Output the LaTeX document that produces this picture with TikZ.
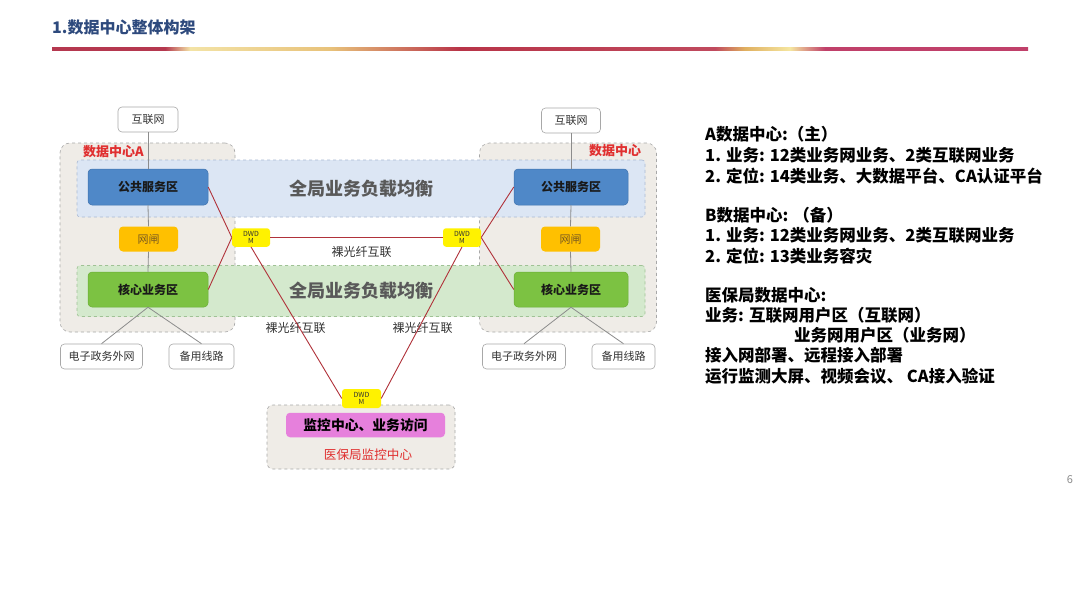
\documentclass[tikz,border=0pt]{standalone}
\usepackage{fontspec}
\setmainfont{Noto Sans CJK SC}
\definecolor{titleblue}{HTML}{2E4A7D}
\definecolor{dcfill}{HTML}{EFECE7}
\definecolor{dcedge}{HTML}{A8A8A8}
\definecolor{bandblue}{HTML}{DCE6F4}
\definecolor{bandblueedge}{HTML}{A9B9D3}
\definecolor{bandgreen}{HTML}{D4E9CD}
\definecolor{bandgreenedge}{HTML}{9FC295}
\definecolor{pubblue}{HTML}{4F88C8}
\definecolor{pubedge}{HTML}{3F72AD}
\definecolor{gateorange}{HTML}{FFC000}
\definecolor{gatetext}{HTML}{7A5A20}
\definecolor{coregreen}{HTML}{7CC242}
\definecolor{coreedge}{HTML}{6AAE36}
\definecolor{pinkbox}{HTML}{E680DC}
\definecolor{fiberred}{HTML}{B0323A}
\definecolor{labelred}{HTML}{E03030}
\definecolor{connectgray}{HTML}{8C8C8C}
\definecolor{bigtext}{HTML}{595959}
\definecolor{gA}{HTML}{B5384F}
\definecolor{gB}{HTML}{F3E3A6}
\definecolor{gC}{HTML}{E8C27A}
\definecolor{gD}{HTML}{B83448}
\definecolor{gE}{HTML}{C04A5E}
\definecolor{gF}{HTML}{E0B060}
\definecolor{gG}{HTML}{F5E6A0}
\definecolor{gH}{HTML}{C0406A}
\begin{document}
\begin{tikzpicture}[x=1pt,y=-1pt,
  box/.style={rounded corners=4pt, inner sep=0pt, align=center},
  plainbox/.style={box, draw=dcedge, fill=white, line width=0.6pt, text=black!80, font=\fontsize{11}{13}\selectfont, minimum height=25pt},
  pubbox/.style={box, fill=pubblue, draw=pubedge, line width=0.5pt, font=\bfseries\fontsize{12}{14}\selectfont, text=black!90, minimum width=120pt, minimum height=36pt},
  gatebox/.style={box, fill=gateorange, font=\fontsize{11}{13}\selectfont, text=gatetext, minimum width=59pt, minimum height=25pt},
  corebox/.style={box, fill=coregreen, draw=coreedge, line width=0.5pt, font=\bfseries\fontsize{12}{14}\selectfont, text=black!90, minimum width=120pt, minimum height=35pt},
  dwdmbox/.style={box, rounded corners=3pt, fill=yellow, font=\fontsize{7}{7.5}\selectfont, text=black!80, minimum width=38pt, minimum height=18.5pt},
  dcbox/.style={box, rounded corners=10pt, fill=dcfill, draw=dcedge, dashed, line width=0.6pt},
  bandbox/.style={box, rounded corners=3pt, dashed, line width=0.6pt, minimum width=568pt},
  bigtitle/.style={font=\bfseries\fontsize{18}{20}\selectfont, text=bigtext, inner sep=0pt},
  redlabel/.style={font=\bfseries\fontsize{13}{15}\selectfont, text=labelred, inner sep=0pt},
  fiberlabel/.style={font=\fontsize{12}{14}\selectfont, text=black!80, inner sep=0pt},
  fiber/.style={draw=fiberred, line width=0.9pt},
  grayline/.style={draw=connectgray, line width=0.8pt},
  notes/.style={anchor=west, inner sep=0pt, font=\bfseries\fontsize{16.5}{19}\selectfont, text=black}
]
\useasboundingbox (0,0) rectangle (1080,608);
\fill[white] (0,0) rectangle (1080,608);

% title and rule
\node[anchor=west, inner sep=0pt, font=\bfseries\fontsize{16}{18}\selectfont, text=titleblue] (title) at (52,27) {1.数据中心整体构架};
\shade[left color=gA, right color=gA] (52,47.5) rectangle (165,50.5);
\shade[left color=gA, right color=gB] (165,47.5) rectangle (190,50.5);
\shade[left color=gB, right color=gC] (190,47.5) rectangle (330,50.5);
\shade[left color=gC, right color=gD] (330,47.5) rectangle (460,50.5);
\shade[left color=gD, right color=gE] (460,47.5) rectangle (715,50.5);
\shade[left color=gE, right color=gF] (715,47.5) rectangle (745,50.5);
\shade[left color=gF, right color=gG] (745,47.5) rectangle (790,50.5);
\shade[left color=gG, right color=gH] (790,47.5) rectangle (825,50.5);
\shade[left color=gH, right color=gH] (825,47.5) rectangle (1028,50.5);

% containers
\node[dcbox, minimum width=175pt, minimum height=189pt] (dcA) at (147.5,237.5) {};
\node[dcbox, minimum width=177pt, minimum height=189pt] (dcB) at (568,237.5) {};
\node[bandbox, fill=bandblue, draw=bandblueedge, minimum height=57pt] (bandTop) at (361,188.5) {};
\node[bandbox, fill=bandgreen, draw=bandgreenedge, minimum height=51pt] (bandBot) at (361,291) {};
\node[dcbox, rounded corners=6pt, minimum width=188pt, minimum height=64pt] (dcM) at (361,437) {};

\node[redlabel] (lblA) at (113.5,152) {数据中心A};
\node[redlabel] (lblB) at (615,151) {数据中心};
\node[bigtitle] (bigTop) at (361,189) {全局业务负载均衡};
\node[bigtitle] (bigBot) at (361,291) {全局业务负载均衡};

% left data center
\node[plainbox, minimum width=60pt] (inetL) at (148,119.5) {互联网};
\node[pubbox] (pubL) at (148,187) {公共服务区};
\node[gatebox] (gateL) at (148.5,239) {网闸};
\node[corebox] (coreL) at (148,289.5) {核心业务区};
\node[plainbox, minimum width=82pt] (egovL) at (101.5,356.5) {电子政务外网};
\node[plainbox, minimum width=65pt] (backL) at (201.5,356.5) {备用线路};

% right data center
\node[plainbox, minimum width=59pt] (inetR) at (571,120.5) {互联网};
\node[pubbox, minimum width=114pt] (pubR) at (571,187) {公共服务区};
\node[gatebox] (gateR) at (570.5,239) {网闸};
\node[corebox, minimum width=114pt] (coreR) at (571,289.5) {核心业务区};
\node[plainbox, minimum width=83pt] (egovR) at (524,356.5) {电子政务外网};
\node[plainbox, minimum width=63pt] (backR) at (623.5,356.5) {备用线路};

% DWDM
\node[dwdmbox] (dwL) at (251,237.5) {DWD\\M};
\node[dwdmbox] (dwR) at (462,237.5) {DWD\\M};
\node[dwdmbox, minimum width=39pt, minimum height=19pt] (dwB) at (361.5,398.5) {DWD\\M};

% monitoring centre
\node[box, fill=pinkbox, minimum width=159pt, minimum height=24.5pt, font=\bfseries\fontsize{13.8}{15}\selectfont, text=black] (mon) at (365.5,425) {监控中心、业务访问};
\node[font=\fontsize{12.6}{14}\selectfont, text=labelred, inner sep=0pt] (lblM) at (368,455) {医保局监控中心};

% fiber labels
\node[fiberlabel] (fibMid) at (361.5,251.5) {裸光纤互联};
\node[fiberlabel] (fibLeft) at (295.5,328) {裸光纤互联};
\node[fiberlabel] (fibRight) at (422.5,328) {裸光纤互联};

% connectors
\draw[grayline] (inetL.south) -- (pubL.north);
\draw[grayline] (pubL.south) -- (gateL.north);
\draw[grayline] (gateL.south) -- (coreL.north);
\draw[grayline] (coreL.south) -- (egovL.north);
\draw[grayline] (coreL.south) -- (backL.north);
\draw[grayline] (inetR.south) -- (pubR.north);
\draw[grayline] (pubR.south) -- (gateR.north);
\draw[grayline] (gateR.south) -- (coreR.north);
\draw[grayline] (coreR.south) -- (egovR.north);
\draw[grayline] (coreR.south) -- (backR.north);
\draw[fiber] (pubL.east) -- (dwL.west);
\draw[fiber] (coreL.east) -- (dwL.west);
\draw[fiber] (dwL.east) -- (dwR.west);
\draw[fiber] (dwR.east) -- (pubR.west);
\draw[fiber] (dwR.east) -- (coreR.west);
\draw[fiber] (dwL.south) -- (dwB.west);
\draw[fiber] (dwR.south) -- (dwB.east);

% notes
\node[notes] (n1) at (705,134.5) {A数据中心:（主）};
\node[notes] (n2) at (705,155.5) {1. 业务: 12类业务网业务、2类互联网业务};
\node[notes] (n3) at (705,176.5) {2. 定位: 14类业务、大数据平台、CA认证平台};
\node[notes] (n4) at (705,215) {B数据中心: （备）};
\node[notes] (n5) at (705,235.5) {1. 业务: 12类业务网业务、2类互联网业务};
\node[notes] (n6) at (705,256) {2. 定位: 13类业务容灾};
\node[notes] (n7) at (705,295) {医保局数据中心:};
\node[notes] (n8) at (705,315.5) {业务: 互联网用户区（互联网）};
\node[notes] (n9) at (794,335.5) {业务网用户区（业务网）};
\node[notes] (n10) at (705,355.5) {接入网部署、远程接入部署};
\node[notes] (n11) at (705,376) {运行监测大屏、视频会议、 CA接入验证};

\node[font=\fontsize{11}{13}\selectfont, text=black!45, inner sep=0pt] (page) at (1070,480) {6};
\end{tikzpicture}
\end{document}
